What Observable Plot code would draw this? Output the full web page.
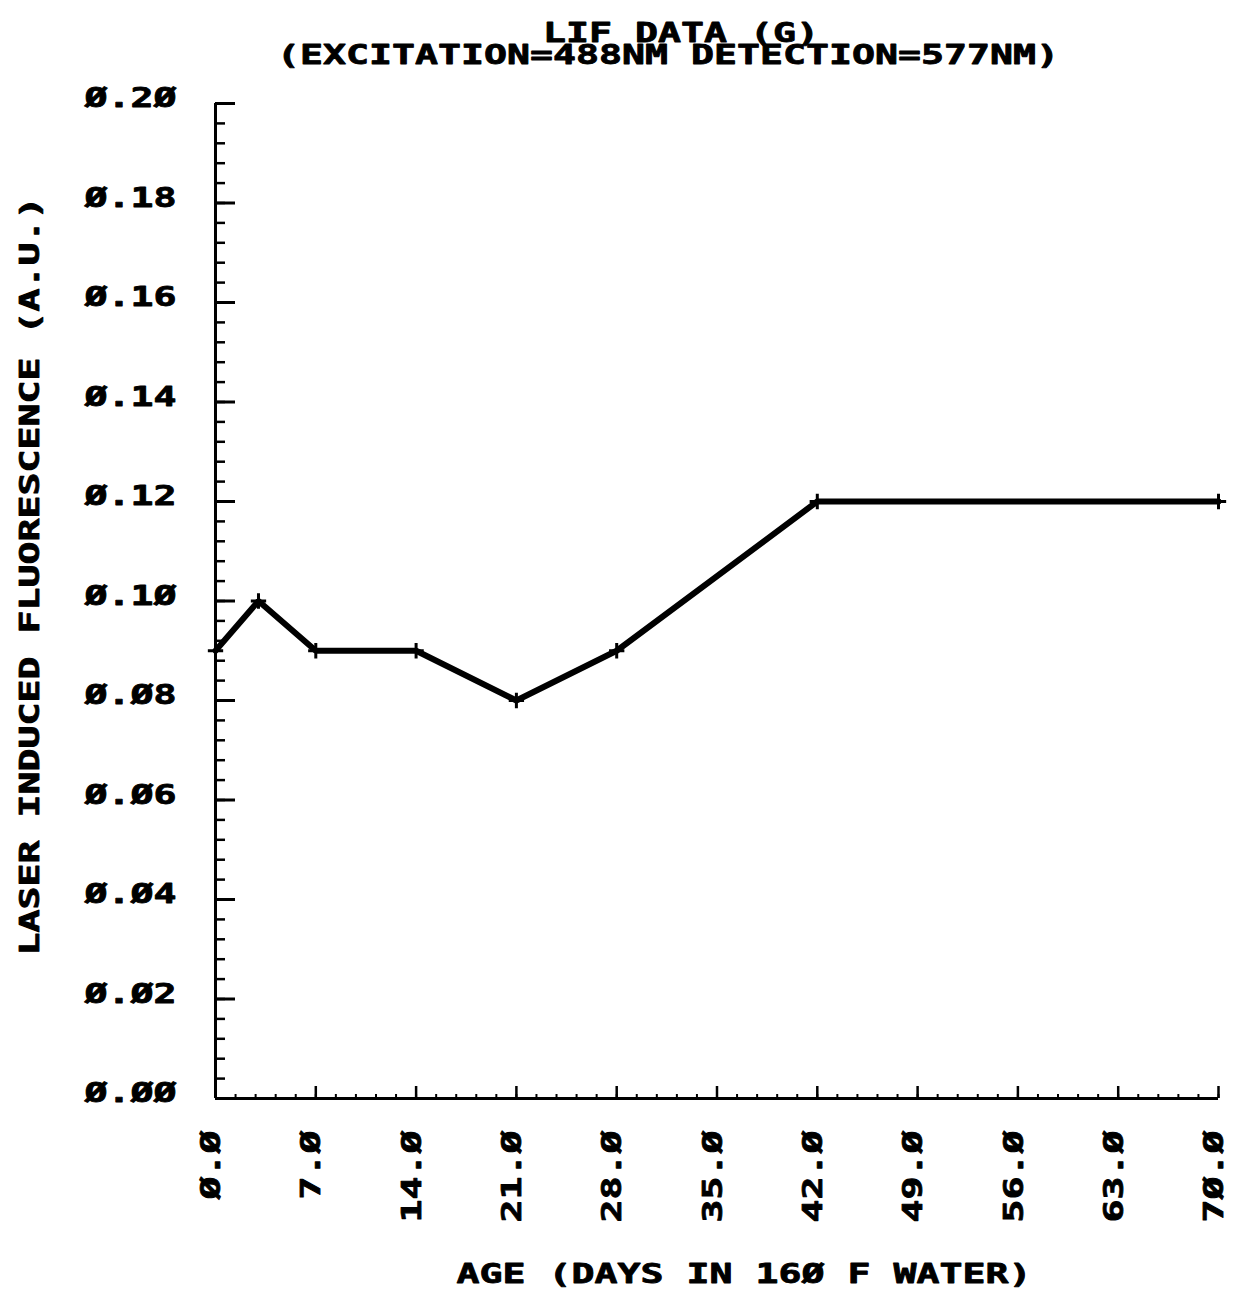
<!DOCTYPE html>
<html>
<head>
<meta charset="utf-8">
<script src="https://cdn.jsdelivr.net/npm/d3@7"></script>
<script src="https://cdn.jsdelivr.net/npm/@observablehq/plot@0.6"></script>
<style>
  html, body { margin: 0; padding: 0; background: #fff; }
  svg { display: block; }
</style>
</head>
<body>
<div id="chart"></div>
<script>
// LIF measurements versus immersion age
const ageDays = [0, 3, 7, 14, 21, 28, 42, 70];
const fluorescence = [0.09, 0.10, 0.09, 0.09, 0.08, 0.09, 0.12, 0.12];

// Axis ticks and their plotter-style labels (slashed zeros)
const xTicks = [0, 7, 14, 21, 28, 35, 42, 49, 56, 63, 70];
const xTickLabels = ["Ø.Ø", "7.Ø", "14.Ø", "21.Ø", "28.Ø", "35.Ø", "42.Ø", "49.Ø", "56.Ø", "63.Ø", "7Ø.Ø"];
const yTicks = [0, 0.02, 0.04, 0.06, 0.08, 0.10, 0.12, 0.14, 0.16, 0.18, 0.20];
const yTickLabels = ["Ø.ØØ", "Ø.Ø2", "Ø.Ø4", "Ø.Ø6", "Ø.Ø8", "Ø.1Ø", "Ø.12", "Ø.14", "Ø.16", "Ø.18", "Ø.2Ø"];
const xMinorTicks = d3.range(0, 70.001, 1.4);
const yMinorTicks = d3.range(0, 0.2001, 0.004);

const titleLines = ["LIF DATA (G)", "(EXCITATION=488NM DETECTION=577NM)"];
const xLabel = "AGE (DAYS IN 16Ø F WATER)";
const yLabel = "LASER INDUCED FLUORESCENCE (A.U.)";

const points = ageDays.map((d, i) => ({age: d, lif: fluorescence[i]}));

const W = 1236, H = 1299;
const mL = 215, mR = 18, mT = 103, mB = 201;
const plotW = W - mL - mR, plotH = H - mT - mB;

const font = "'DejaVu Sans Mono', monospace";
// character cell width of the plotter lettering, px
const cell = 23;
const titleCell = 21.8;
const ink = {fill: "#000", stroke: "#000", strokeWidth: 0.8, fontWeight: "bold", fontSize: 27, lineAnchor: "middle"};

const chart = Plot.plot({
  width: W,
  height: H,
  marginLeft: mL,
  marginRight: mR,
  marginTop: mT,
  marginBottom: mB,
  x: {domain: [0, 70], axis: null},
  y: {domain: [0, 0.2], axis: null},
  style: {background: "#fff", color: "#000", fontFamily: font, overflow: "visible"},
  marks: [
    // inward minor and major ticks on the left axis
    Plot.tickY(yMinorTicks, {y: d => d, insetRight: plotW - 10, stroke: "#000", strokeWidth: 2.5}),
    Plot.tickY(yTicks, {y: d => d, insetRight: plotW - 20, stroke: "#000", strokeWidth: 3}),
    // inward minor and major ticks on the bottom axis
    Plot.tickX(xMinorTicks, {x: d => d, insetTop: plotH - 4, stroke: "#000", strokeWidth: 2}),
    Plot.tickX(xTicks, {x: d => d, insetTop: plotH - 12, stroke: "#000", strokeWidth: 2.5}),
    // axis lines
    Plot.ruleX([0], {stroke: "#000", strokeWidth: 3}),
    Plot.ruleY([0], {stroke: "#000", strokeWidth: 3}),
    // tick labels
    Plot.text(yTicks, {
      y: d => d, text: (d, i) => yTickLabels[i], frameAnchor: "left", textAnchor: "end",
      dx: -39, dy: -5, ...ink
    }),
    Plot.text(xTicks, {
      x: d => d, text: (d, i) => xTickLabels[i], frameAnchor: "bottom", rotate: -90, textAnchor: "end",
      dx: -4, dy: 32, ...ink
    }),
    // axis titles
    Plot.text([yLabel], {
      text: d => d, frameAnchor: "left", rotate: -90, textAnchor: "middle",
      dx: -185, dy: -25, ...ink
    }),
    Plot.text([xLabel], {
      text: d => d, frameAnchor: "bottom", textAnchor: "middle",
      dx: 27, dy: 176, ...ink
    }),
    // chart title, two lines
    Plot.text([titleLines[0]], {
      text: d => d, frameAnchor: "top", textAnchor: "middle",
      dx: -36, dy: -70, ...ink, ariaLabel: "title"
    }),
    Plot.text([titleLines[1]], {
      text: d => d, frameAnchor: "top", textAnchor: "middle",
      dx: -49, dy: -48, ...ink, ariaLabel: "title"
    }),
    // data
    Plot.line(points, {x: "age", y: "lif", stroke: "#000", strokeWidth: 6, strokeLinejoin: "miter"}),
    Plot.dot(points, {x: "age", y: "lif", symbol: "plus", r: 5, stroke: "#000", strokeWidth: 3})
  ]
});

// Lay every label out on the fixed character cell of the plotter lettering
chart.querySelectorAll("text").forEach(t => {
  const n = t.textContent.length;
  const isTitle = t.closest('g[aria-label="title"]') !== null;
  t.setAttribute("textLength", n * (isTitle ? titleCell : cell));
  t.setAttribute("lengthAdjust", "spacingAndGlyphs");
});

document.getElementById("chart").appendChild(chart);
</script>
</body>
</html>
